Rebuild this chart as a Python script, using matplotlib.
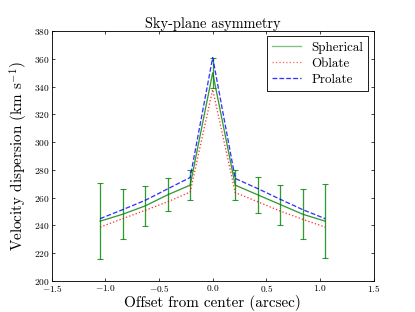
import matplotlib
matplotlib.use("Agg")
import matplotlib.pyplot as plt
from matplotlib.lines import Line2D

# offsets along the slit (arcsec)
offset = [-1.05, -0.84, -0.63, -0.42, -0.21, 0.0, 0.21, 0.42, 0.63, 0.84, 1.05]

# model dispersions (km/s)
spherical = [243, 248, 254, 262, 269, 350, 269, 262, 255, 248, 243]
oblate = [238.7, 244.8, 250.8, 257, 264, 338, 263.6, 257, 250.3, 244.3, 238.7]
prolate = [244.8, 251.3, 258, 266.3, 274.5, 361, 273.8, 266.5, 258.8, 251.3, 244.8]

# observed errors on spherical
err = [27.5, 18, 14.5, 12, 10.8, 11, 11, 12.8, 14.4, 18, 26.8]

plt.rcParams['font.family'] = 'serif'
plt.rcParams['font.serif'] = ['cmr10']
plt.rcParams['mathtext.fontset'] = 'cm'
plt.rcParams['axes.formatter.use_mathtext'] = True
plt.rcParams['xtick.direction'] = 'in'
plt.rcParams['ytick.direction'] = 'in'
plt.rcParams['xtick.top'] = True
plt.rcParams['ytick.right'] = True

fig = plt.figure(figsize=(415 / 52, 6), dpi=52)
fig.subplots_adjust(left=0.125, right=0.9, bottom=0.1, top=0.9)
ax = fig.add_subplot(111)

ax.errorbar(offset, spherical, yerr=err, color='g', ecolor='g', capsize=4,
            elinewidth=1.8, capthick=1.5, lw=1.8, alpha=0.8)
ax.plot(offset, oblate, 'r:', lw=1.8, alpha=0.8)
ax.plot(offset, prolate, 'b--', lw=1.8, alpha=0.8)

ax.set_xlim(-1.5, 1.5)
ax.set_ylim(200, 380)
ax.set_xticks([-1.5, -1.0, -0.5, 0.0, 0.5, 1.0, 1.5])
ax.set_yticks(range(200, 381, 20))
ax.tick_params(labelsize=13, length=4, width=1)
ax.tick_params(axis='x', pad=3)
for s in ax.spines.values():
    s.set_linewidth(1.2)

ax.set_title('Sky-plane asymmetry', fontsize=20, pad=4)
ax.set_xlabel('Offset from center (arcsec)', fontsize=21, labelpad=2)
ax.set_ylabel(r'Velocity dispersion (km s$^{-1}$)', fontsize=21, labelpad=5)

handles = [Line2D([], [], color='g', lw=1.8, alpha=0.5),
           Line2D([], [], color='r', ls=':', lw=1.8, alpha=0.6),
           Line2D([], [], color='b', ls='--', lw=1.8, alpha=0.8)]
labels = ['Spherical', 'Oblate', 'Prolate']
leg = ax.legend(handles, labels, loc='upper right', fontsize=18, fancybox=False,
                framealpha=1, edgecolor='k', handlelength=2.2, borderaxespad=0.4,
                labelspacing=0.3)
leg.get_frame().set_linewidth(1.2)

fig.savefig('out.png', dpi=52)
